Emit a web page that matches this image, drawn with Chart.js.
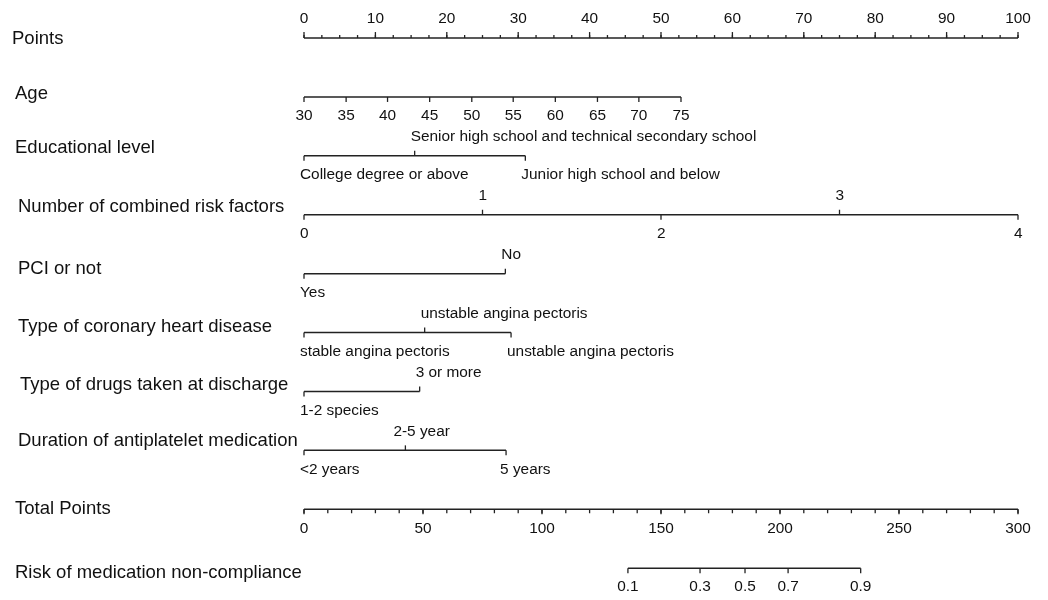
<!DOCTYPE html>
<html>
<head>
<meta charset="utf-8">
<script src="https://cdn.jsdelivr.net/npm/chart.js@4/dist/chart.umd.min.js"></script>
<style>
  body { margin: 0; background: #fff; }
  #wrap { width: 1048px; height: 600px; }
</style>
</head>
<body>
<div id="wrap"><canvas id="nomo"></canvas></div>
<script>
// valeurs (en "points")
const pointsLabels = [0, 10, 20, 30, 40, 50, 60, 70, 80, 90, 100];

const ageLabels = [30, 35, 40, 45, 50, 55, 60, 65, 70, 75];
const agePoints = [0, 5.9, 11.7, 17.6, 23.5, 29.3, 35.2, 41.1, 46.9, 52.8];

const eduLabels = ['College degree or above', 'Senior high school and technical secondary school', 'Junior high school and below'];
const eduPoints = [0, 15.5, 31];

const riskFactorLabels = ['0', '1', '2', '3', '4'];
const riskFactorPoints = [0, 25, 50, 75, 100];

const pciLabels = ['Yes', 'No'];
const pciPoints = [0, 28.2];

const chdLabels = ['stable angina pectoris', 'unstable angina pectoris', 'unstable angina pectoris'];
const chdPoints = [0, 16.9, 29];

const drugLabels = ['1-2 species', '3 or more'];
const drugPoints = [0, 16.2];

const durationLabels = ['<2 years', '2-5 year', '5 years'];
const durationPoints = [0, 14.2, 28.3];

const totalLabels = [0, 50, 100, 150, 200, 250, 300];

const riskLabels = ['0.1', '0.3', '0.5', '0.7', '0.9'];
const riskPoints = [136.1, 166.4, 185.3, 203.4, 233.9]; // sur l'échelle Total Points

// description des lignes du nomogramme
const rows = [
  { title: 'Points', tx: 12, ty: 1, axis: 'x', values: pointsLabels, labels: pointsLabels.map(String), side: 'above', align: 'center', minor: 2.5 },
  { title: 'Age', tx: 15, ty: -3, axis: 'x', values: agePoints, labels: ageLabels.map(String), side: 'below', align: 'center' },
  { title: 'Educational level', tx: 15, ty: -8, axis: 'x', values: eduPoints, labels: eduLabels, side: 'alt', align: 'left' },
  { title: 'Number of combined risk factors', tx: 18, ty: -8, axis: 'x', values: riskFactorPoints, labels: riskFactorLabels, side: 'alt', align: 'left' },
  { title: 'PCI or not', tx: 18, ty: -5, axis: 'x', values: pciPoints, labels: pciLabels, side: 'alt', align: 'left' },
  { title: 'Type of coronary heart disease', tx: 18, ty: -6, axis: 'x', values: chdPoints, labels: chdLabels, side: 'alt', align: 'left' },
  { title: 'Type of drugs taken at discharge', tx: 20, ty: -7, axis: 'x', values: drugPoints, labels: drugLabels, side: 'alt', align: 'left' },
  { title: 'Duration of antiplatelet medication', tx: 18, ty: -9, axis: 'x', values: durationPoints, labels: durationLabels, side: 'alt', align: 'left', dx: [-4, -12, -6] },
  { title: 'Total Points', tx: 15, ty: 0, axis: 'x2', values: totalLabels, labels: totalLabels.map(String), side: 'below', align: 'center', minor: 10, shift: 3 },
  { title: 'Risk of medication non-compliance', tx: 15, ty: 5, axis: 'x2', values: riskPoints, labels: riskLabels, side: 'below', align: 'center' }
];

const lineColor = '#222';

const datasets = rows.map((r, i) => ({
  data: [{ x: Math.min(...r.values), y: i }, { x: Math.max(...r.values), y: i }],
  xAxisID: r.axis,
  showLine: true,
  borderColor: lineColor,
  borderWidth: 1.5,
  pointRadius: 0
}));

// ticks + étiquettes
const nomoPlugin = {
  id: 'nomo',
  afterDatasetsDraw(chart) {
    const ctx = chart.ctx;
    const yS = chart.scales.y;
    ctx.save();
    ctx.strokeStyle = lineColor;
    ctx.lineWidth = 1.3;
    ctx.fillStyle = '#111';
    rows.forEach((r, i) => {
      const xS = chart.scales[r.axis];
      const y = yS.getPixelForValue(i);
      // titre
      ctx.font = '18.5px "Liberation Sans", Arial, sans-serif';
      ctx.textAlign = 'left';
      ctx.textBaseline = 'middle';
      ctx.fillText(r.title, r.tx, y + r.ty);
      // petites graduations
      if (r.minor) {
        const lo = Math.min(...r.values), hi = Math.max(...r.values);
        for (let v = lo; v <= hi + 1e-9; v += r.minor) {
          const x = xS.getPixelForValue(v);
          const len = r.side === 'above' ? -3 : 4;
          ctx.beginPath(); ctx.moveTo(x, y); ctx.lineTo(x, y + len); ctx.stroke();
        }
      }
      ctx.font = '15.4px "Liberation Sans", Arial, sans-serif';
      r.values.forEach((v, k) => {
        const x = xS.getPixelForValue(v);
        let up = r.side === 'above' || (r.side === 'alt' && k % 2 === 1);
        const len = r.side === 'above' ? 6 : 5;
        ctx.beginPath(); ctx.moveTo(x, y); ctx.lineTo(x, up ? y - len : y + len); ctx.stroke();
        ctx.textAlign = r.align;
        const dx = r.dx ? r.dx[k] : (r.align === 'left' ? -4 : 0);
        ctx.fillText(r.labels[k], x + dx, up ? y - 19 : y + 19);
      });
    });
    ctx.restore();
  }
};

new Chart(document.getElementById('nomo'), {
  type: 'scatter',
  data: { datasets: datasets },
  options: {
    responsive: true,
    maintainAspectRatio: false,
    animation: false,
    layout: { padding: { left: 304, right: 30, top: 8.6, bottom: 2.4 } },
    scales: {
      x: { type: 'linear', min: 0, max: 100, display: false },
      x2: { type: 'linear', min: 0, max: 300, display: false },
      y: { type: 'linear', min: -0.5, max: 9.5, reverse: true, display: false }
    },
    plugins: {
      legend: { display: false },
      tooltip: { enabled: false }
    }
  },
  plugins: [nomoPlugin]
});
</script>
</body>
</html>
